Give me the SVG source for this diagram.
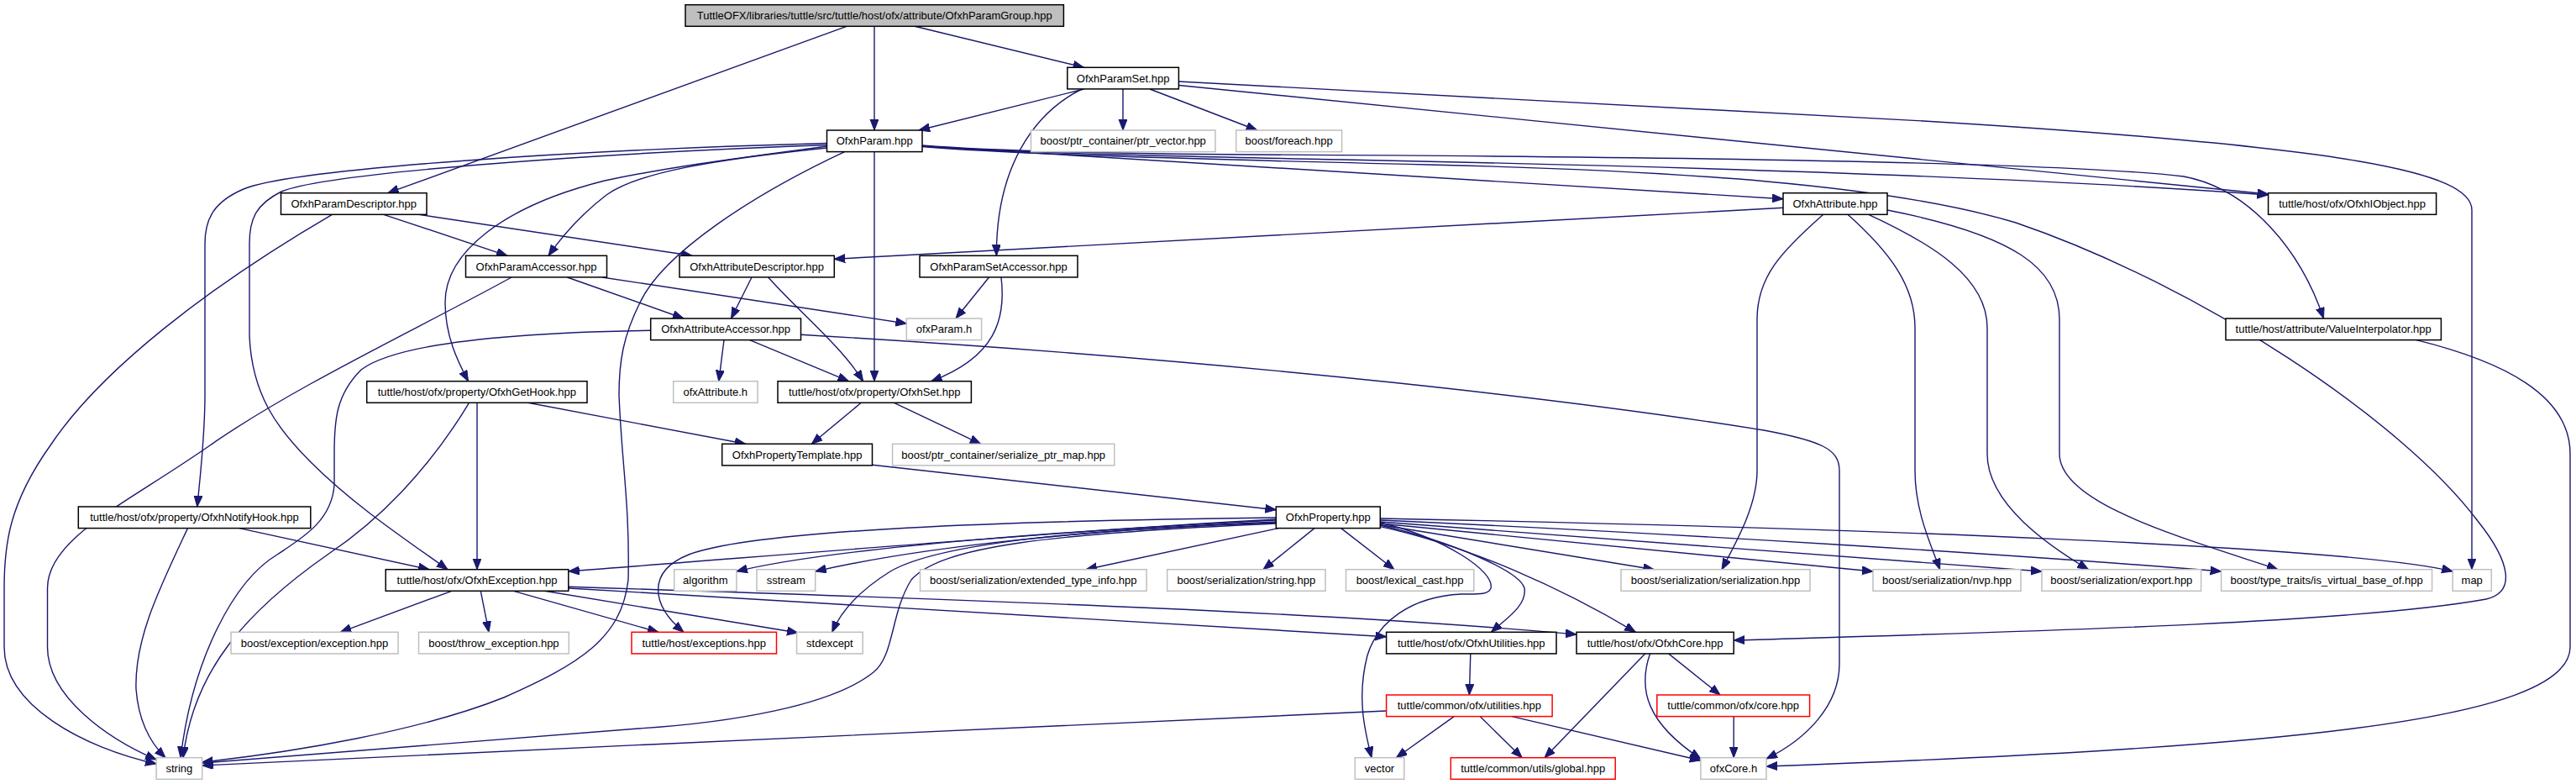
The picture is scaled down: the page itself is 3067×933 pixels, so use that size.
<svg xmlns="http://www.w3.org/2000/svg" width="3067" height="933" viewBox="0 0 3067 933">
<style>
.n rect{fill:#fff;stroke:#000;stroke-width:1.5}
.g rect{fill:#fff;stroke:#bfbfbf;stroke-width:1.5}
.r rect{fill:#fff;stroke:#ff0000;stroke-width:1.5}
.root rect{fill:#bfbfbf;stroke:#000;stroke-width:1.5}
text{font-family:"Liberation Sans",Arial,sans-serif;font-size:13px;fill:#000;text-anchor:middle}
#edges path{fill:none;stroke:#191970;stroke-width:1.4;marker-end:url(#ah)}
</style>
<defs>
<marker id="ah" markerUnits="userSpaceOnUse" markerWidth="14" markerHeight="11" refX="13" refY="5" orient="auto">
<path d="M0,0 L13,5 L0,10 z" fill="#191970" stroke="#191970" stroke-width="1"/>
</marker>
</defs>
<rect width="3067" height="933" fill="#fff"/>
<g id="edges">
<path d="M1008,31.3 L461.7,229.7"/>
<path d="M1041,31.3 L1041,155"/>
<path d="M1089,31.3 L1290.5,80.3"/>
<path d="M1290.5,106 L1094,155"/>
<path d="M1288,106 C1230,135 1186,200 1186.4,304.3"/>
<path d="M1337,106 L1337,155"/>
<path d="M1369,106 L1496.8,155"/>
<path d="M1403.4,97 L2290,144 C2800,175 2943,205 2943,250 L2943,677.7"/>
<path d="M1403.4,101.5 L2700.6,231"/>
<path d="M1098,173.5 C1200,182 1400,186 1600,190 C2000,198 2400,210 2700.6,232"/>
<path d="M1098,173 C1200,181 1350,183 1490,184 C1900,186 2450,192 2600,210 C2680,225 2740,300 2766.5,379"/>
<path d="M1098,174 L2123,236.7"/>
<path d="M1098,174.5 C1200,183 1400,189 1700,196 C2000,203 2250,220 2400,265 C2620,340 2860,500 2950,620 C2990,670 2995,705 2960,713 C2800,742 2400,752 2064.2,762"/>
<path d="M984.5,176 C850,190 760,205 722,232 C692,255 670,280 653,304.3"/>
<path d="M984.5,174 C880,188 800,198 720,215 C600,245 530,300 530,360 C530,400 545,430 557.5,453.7"/>
<path d="M984.5,170.5 C700,178 350,200 290,225 C255,240 244,260 244,290 L244,470 C244,520 238,570 234.8,603"/>
<path d="M984.5,172.5 C720,182 390,205 335,228 C305,243 297,260 297,290 L297,400 C300,470 330,510 370,550 C420,600 480,640 533,677.7"/>
<path d="M1005.6,180.6 C900,230 790,300 762,360 C742,400 737,430 737,470 C740,550 750,600 748,690 C740,760 690,790 600,830 C500,870 350,895 240.7,907"/>
<path d="M1041,180.6 L1041,453.7"/>
<path d="M395.4,255.3 C250,340 120,440 60,530 C10,600 5,650 5,700 L5,770 C5,840 100,890 186.1,909"/>
<path d="M456.8,255.3 L604,304.3"/>
<path d="M498.6,255.3 L824,304.3"/>
<path d="M609,330 C500,390 350,460 250,530 C150,600 56.5,640 56.5,700 L56.5,770 C56.5,830 130,880 186.1,904"/>
<path d="M675.4,330 L814,379"/>
<path d="M717,330 L1079.3,385"/>
<path d="M895,330 L870.5,379"/>
<path d="M914.7,330 C950,370 1000,410 1027.7,453.7"/>
<path d="M1177.5,330 L1138,379"/>
<path d="M1192,330 C1198,380 1185,425 1108.7,453.7"/>
<path d="M2123,247.3 L993.3,308.3"/>
<path d="M2170.8,255.3 C2120,300 2092,330 2092,380 L2092,560 C2092,600 2070,640 2050,677.7"/>
<path d="M2200,255.3 C2250,300 2280,340 2280,390 L2280,560 C2280,610 2300,650 2309.6,677.7"/>
<path d="M2224.8,255.3 C2300,290 2366,330 2366,390 L2366,540 C2366,600 2440,650 2486.5,677.7"/>
<path d="M2247,250 C2400,280 2452,320 2452,380 L2452,540 C2452,600 2600,640 2712,677.7"/>
<path d="M2877,404.6 C2980,430 3060,470 3060,540 L3060,770 C3060,860 2700,890 2103,912"/>
<path d="M953.5,398.3 C1500,430 1900,480 2100,512 C2170,525 2190,535 2190,560 L2190,790 C2190,840 2150,880 2103,903"/>
<path d="M862,404.6 L855.8,453.7"/>
<path d="M892.6,404.6 L1010.5,453.7"/>
<path d="M774.7,393.3 C600,396 470,410 430,440 C400,470 398,500 398,540 L398,577 C395,620 360,640 330,660 C280,690 230,780 215,901.7"/>
<path d="M558.5,479.3 C510,560 450,620 390,660 C290,730 230,800 218,901.7"/>
<path d="M568,479.3 L568,677.7"/>
<path d="M628.7,479.3 L887.7,528.3"/>
<path d="M223.5,628.6 C190,700 160,760 162,820 C165,860 180,885 197,901.7"/>
<path d="M285,628.6 L511,677.7"/>
<path d="M1025.3,479.3 L966.3,528.3"/>
<path d="M1064.5,479.3 L1167.7,528.3"/>
<path d="M1038.5,553.3 L1519.3,606.7"/>
<path d="M1519.3,618 C1300,630 1000,655 676.8,680"/>
<path d="M1519.3,616 C1200,620 900,630 820,660 C770,680 775,720 814,752.3"/>
<path d="M1519.3,619 C1300,630 1000,650 876.9,680"/>
<path d="M1519.3,621 C1300,630 1100,650 970.7,680"/>
<path d="M1519.3,622 C1300,630 1120,645 1060,680 C1020,705 1000,730 990.8,752.3"/>
<path d="M1519.3,623 C1250,635 1120,650 1085,690 C1060,730 1065,780 1040,800 C990,840 870,860 760,867 L240.7,908"/>
<path d="M1522,628.6 L1293,677.7"/>
<path d="M1565,628.6 L1504,677.7"/>
<path d="M1596.7,628.6 L1660,677.7"/>
<path d="M1643.3,622 C1720,640 1780,680 1775,700 C1772,708 1760,707 1740,707 C1680,710 1640,740 1628,780 C1615,830 1625,870 1633,901.7"/>
<path d="M1643.3,625 C1730,645 1810,680 1815,700 C1818,720 1795,735 1775.4,752.3"/>
<path d="M1643.3,626.6 C1750,650 1860,700 1947.3,752.3"/>
<path d="M1643.3,624.5 L1969.4,677.7"/>
<path d="M1643.3,623 L2230,680"/>
<path d="M1643.3,621 L2431,680"/>
<path d="M1643.3,619 C2000,635 2400,660 2644.6,680"/>
<path d="M1643.3,617 C2200,628 2800,650 2920.2,680"/>
<path d="M537.9,703.3 L405.2,752.3"/>
<path d="M572.3,703.3 L582,752.3"/>
<path d="M611.5,703.3 L784,752.3"/>
<path d="M648.4,703.3 L950,753"/>
<path d="M676.8,700 L1650.6,757.7"/>
<path d="M676.8,698.3 C1200,715 1600,730 1877,755"/>
<path d="M1750.8,777.9 L1749.4,827"/>
<path d="M1958.6,777.9 L1839,901.7"/>
<path d="M1964.5,777.9 C1950,820 1960,860 2024.9,903"/>
<path d="M1986.6,777.9 L2048,827"/>
<path d="M1731.2,852.6 L1662.4,901.7"/>
<path d="M1762.1,852.6 L1812.2,901.7"/>
<path d="M1800,852.6 L2024.9,905"/>
<path d="M1650.6,846 C1300,860 700,890 240.7,911"/>
<path d="M2064.2,852.6 L2064.2,901.7"/>
</g>
<g id="n_root" class="root"><rect x="816" y="5.7" width="450.4" height="25.6"/><text x="1041.2" y="23">TuttleOFX/libraries/tuttle/src/tuttle/host/ofx/attribute/OfxhParamGroup.hpp</text></g>
<g id="n_paramset" class="n"><rect x="1270.8" y="80.3" width="132.6" height="25.6"/><text x="1337.1" y="97.6">OfxhParamSet.hpp</text></g>
<g id="n_param" class="n"><rect x="984.5" y="155" width="113.5" height="25.6"/><text x="1041.2" y="172.3">OfxhParam.hpp</text></g>
<g id="n_ptrvector" class="g"><rect x="1227.5" y="155" width="219.5" height="25.6"/><text x="1337.2" y="172.3">boost/ptr_container/ptr_vector.hpp</text></g>
<g id="n_foreach" class="g"><rect x="1471.7" y="155" width="125.9" height="25.6"/><text x="1534.6" y="172.3">boost/foreach.hpp</text></g>
<g id="n_paramdesc" class="n"><rect x="334.5" y="229.7" width="173.5" height="25.6"/><text x="421.2" y="247">OfxhParamDescriptor.hpp</text></g>
<g id="n_attribute" class="n"><rect x="2123" y="229.7" width="124" height="25.6"/><text x="2185" y="247">OfxhAttribute.hpp</text></g>
<g id="n_iobject" class="n"><rect x="2700.6" y="229.7" width="200" height="25.6"/><text x="2800.6" y="247">tuttle/host/ofx/OfxhIObject.hpp</text></g>
<g id="n_paramacc" class="n"><rect x="554.5" y="304.3" width="168" height="25.6"/><text x="638.5" y="321.6">OfxhParamAccessor.hpp</text></g>
<g id="n_attrdesc" class="n"><rect x="809" y="304.3" width="184.3" height="25.6"/><text x="901.1" y="321.6">OfxhAttributeDescriptor.hpp</text></g>
<g id="n_paramsetacc" class="n"><rect x="1095" y="304.3" width="188" height="25.6"/><text x="1189" y="321.6">OfxhParamSetAccessor.hpp</text></g>
<g id="n_attracc" class="n"><rect x="774.7" y="379" width="178.8" height="25.6"/><text x="864.1" y="396.3">OfxhAttributeAccessor.hpp</text></g>
<g id="n_ofxparam" class="g"><rect x="1079.3" y="379" width="89.3" height="25.6"/><text x="1124" y="396.3">ofxParam.h</text></g>
<g id="n_valueinterp" class="n"><rect x="2650" y="379" width="256.4" height="25.6"/><text x="2778.2" y="396.3">tuttle/host/attribute/ValueInterpolator.hpp</text></g>
<g id="n_gethook" class="n"><rect x="436.7" y="453.7" width="262.3" height="25.6"/><text x="567.8" y="471">tuttle/host/ofx/property/OfxhGetHook.hpp</text></g>
<g id="n_ofxattribute" class="g"><rect x="801.7" y="453.7" width="100.3" height="25.6"/><text x="851.8" y="471">ofxAttribute.h</text></g>
<g id="n_ofxhset" class="n"><rect x="926" y="453.7" width="230.4" height="25.6"/><text x="1041.2" y="471">tuttle/host/ofx/property/OfxhSet.hpp</text></g>
<g id="n_proptemplate" class="n"><rect x="859.7" y="528.3" width="178.8" height="25.6"/><text x="949.1" y="545.6">OfxhPropertyTemplate.hpp</text></g>
<g id="n_serptrmap" class="g"><rect x="1062.6" y="528.3" width="264.2" height="25.6"/><text x="1194.7" y="545.6">boost/ptr_container/serialize_ptr_map.hpp</text></g>
<g id="n_notifyhook" class="n"><rect x="93.3" y="603" width="276.5" height="25.6"/><text x="231.5" y="620.3">tuttle/host/ofx/property/OfxhNotifyHook.hpp</text></g>
<g id="n_property" class="n"><rect x="1519.3" y="603" width="124" height="25.6"/><text x="1581.3" y="620.3">OfxhProperty.hpp</text></g>
<g id="n_exception" class="n"><rect x="459.2" y="677.7" width="217.6" height="25.6"/><text x="568" y="695">tuttle/host/ofx/OfxhException.hpp</text></g>
<g id="n_algorithm" class="g"><rect x="802.7" y="677.7" width="74.2" height="25.6"/><text x="839.8" y="695">algorithm</text></g>
<g id="n_sstream" class="g"><rect x="901" y="677.7" width="69.7" height="25.6"/><text x="935.8" y="695">sstream</text></g>
<g id="n_exttypeinfo" class="g"><rect x="1095.5" y="677.7" width="269.6" height="25.6"/><text x="1230.3" y="695">boost/serialization/extended_type_info.hpp</text></g>
<g id="n_serstring" class="g"><rect x="1389.7" y="677.7" width="188.3" height="25.6"/><text x="1483.8" y="695">boost/serialization/string.hpp</text></g>
<g id="n_lexcast" class="g"><rect x="1602.5" y="677.7" width="152.3" height="25.6"/><text x="1678.6" y="695">boost/lexical_cast.hpp</text></g>
<g id="n_serialization" class="g"><rect x="1930" y="677.7" width="225" height="25.6"/><text x="2042.5" y="695">boost/serialization/serialization.hpp</text></g>
<g id="n_nvp" class="g"><rect x="2230" y="677.7" width="176" height="25.6"/><text x="2318" y="695">boost/serialization/nvp.hpp</text></g>
<g id="n_export" class="g"><rect x="2431" y="677.7" width="189.6" height="25.6"/><text x="2525.8" y="695">boost/serialization/export.hpp</text></g>
<g id="n_isvirtual" class="g"><rect x="2644.6" y="677.7" width="251" height="25.6"/><text x="2770.1" y="695">boost/type_traits/is_virtual_base_of.hpp</text></g>
<g id="n_map" class="g"><rect x="2920.2" y="677.7" width="46.1" height="25.6"/><text x="2943.2" y="695">map</text></g>
<g id="n_boostexc" class="g"><rect x="275" y="752.3" width="199" height="25.6"/><text x="374.5" y="769.6">boost/exception/exception.hpp</text></g>
<g id="n_throwexc" class="g"><rect x="498.5" y="752.3" width="178.8" height="25.6"/><text x="587.9" y="769.6">boost/throw_exception.hpp</text></g>
<g id="n_exceptions" class="r"><rect x="752" y="752.3" width="172.5" height="25.6"/><text x="838.2" y="769.6">tuttle/host/exceptions.hpp</text></g>
<g id="n_stdexcept" class="g"><rect x="948.6" y="752.3" width="78.6" height="25.6"/><text x="987.9" y="769.6">stdexcept</text></g>
<g id="n_utilities" class="n"><rect x="1650.6" y="752.3" width="202.4" height="25.6"/><text x="1751.8" y="769.6">tuttle/host/ofx/OfxhUtilities.hpp</text></g>
<g id="n_core" class="n"><rect x="1877" y="752.3" width="187.2" height="25.6"/><text x="1970.6" y="769.6">tuttle/host/ofx/OfxhCore.hpp</text></g>
<g id="n_cutilities" class="r"><rect x="1650.6" y="827" width="197.5" height="25.6"/><text x="1749.3" y="844.3">tuttle/common/ofx/utilities.hpp</text></g>
<g id="n_ccore" class="r"><rect x="1972.8" y="827" width="181.8" height="25.6"/><text x="2063.7" y="844.3">tuttle/common/ofx/core.hpp</text></g>
<g id="n_string" class="g"><rect x="186.1" y="901.7" width="54.6" height="25.6"/><text x="213.4" y="919">string</text></g>
<g id="n_vector" class="g"><rect x="1613.3" y="901.7" width="58.5" height="25.6"/><text x="1642.5" y="919">vector</text></g>
<g id="n_global" class="r"><rect x="1727.3" y="901.7" width="195.9" height="25.6"/><text x="1825.2" y="919">tuttle/common/utils/global.hpp</text></g>
<g id="n_ofxcore" class="g"><rect x="2024.9" y="901.7" width="78.1" height="25.6"/><text x="2064" y="919">ofxCore.h</text></g>
</svg>
